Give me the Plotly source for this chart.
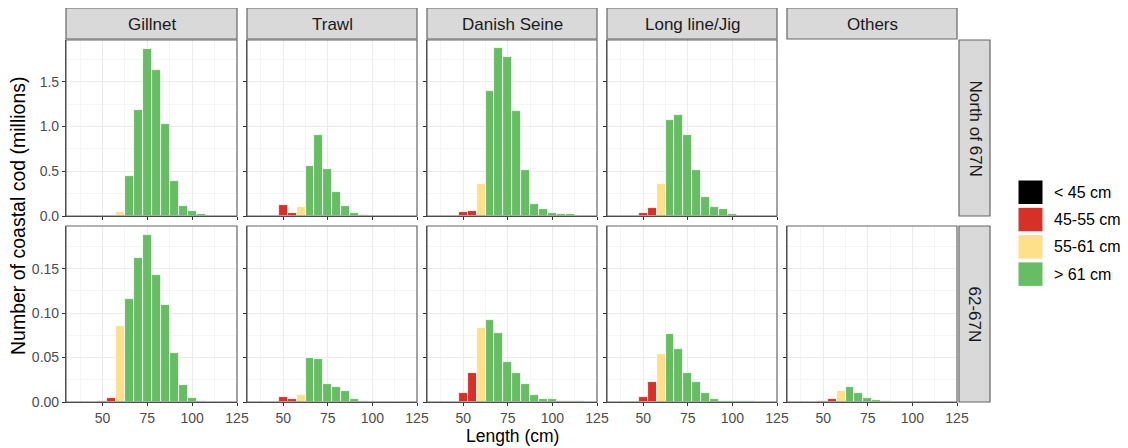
import plotly.graph_objects as go

# the page places the figure 8 px in from the top-left corner of the window
OFF = 8
W, H = 1128 - OFF, 448 - OFF

# ---- data (millions of fish), length bins in cm (bin centres) ----
bins = [50, 55, 60, 65, 70, 75, 80, 85, 90, 95, 100, 105, 110, 115]
bin_class = ["45-55 cm", "45-55 cm", "55-61 cm"] + ["> 61 cm"] * 11

gears = ["Gillnet", "Trawl", "Danish Seine", "Long line/Jig", "Others"]
regions = ["North of 67N", "62-67N"]

gillnet_north = [0, 0, 0.044, 0.45, 1.178, 1.863, 1.63, 1.026, 0.396, 0.115, 0.056, 0.022, 0, 0]
trawl_north = [0.122, 0.03, 0.104, 0.559, 0.907, 0.53, 0.263, 0.107, 0.033, 0.015, 0, 0, 0, 0]
seine_north = [0.04, 0.056, 0.356, 1.40, 1.874, 1.77, 1.167, 0.515, 0.133, 0.074, 0.037, 0.022, 0.022, 0]
longline_north = [0.03, 0.085, 0.352, 1.067, 1.133, 0.90, 0.511, 0.207, 0.096, 0.074, 0.026, 0, 0, 0]
others_north = [0] * 14

gillnet_south = [0.001, 0.005, 0.085, 0.116, 0.162, 0.188, 0.143, 0.109, 0.055, 0.019, 0.005, 0.001, 0, 0]
trawl_south = [0.0056, 0.003, 0.008, 0.050, 0.0485, 0.020, 0.017, 0.0123, 0.003, 0.001, 0, 0, 0, 0]
seine_south = [0.0097, 0.0325, 0.083, 0.0925, 0.078, 0.045, 0.0325, 0.020, 0.0078, 0.003, 0.003, 0.0015, 0.001, 0.001]
longline_south = [0.0056, 0.0224, 0.0537, 0.0765, 0.0593, 0.0325, 0.0224, 0.0097, 0.0034, 0.0015, 0.001, 0.001, 0.001, 0]
others_south = [0.001, 0.0034, 0.0123, 0.017, 0.010, 0.0045, 0.0026, 0.0015, 0, 0, 0, 0, 0, 0]

panel_data = [
    [gillnet_north, trawl_north, seine_north, longline_north, others_north],
    [gillnet_south, trawl_south, seine_south, longline_south, others_south],
]

classes = ["< 45 cm", "45-55 cm", "55-61 cm", "> 61 cm"]
class_colors = ["#000000", "#D73027", "#FEE08B", "#66BD63"]

x_ticks = [50, 75, 100, 125]
y_ticks_top = [0.0, 0.5, 1.0, 1.5]
y_ticks_bottom = [0.00, 0.05, 0.10, 0.15]

# ---- layout geometry (window pixels) ----
col_x = [(66, 237), (247, 417), (427, 597), (607, 777), (787, 957)]
row_y = [(40, 216), (226, 402)]
strip_top = (8, 39)
strip_right = (959, 990)

def px_x(p):
    return (p - OFF) / W

def px_y(p):
    return 1 - (p - OFF) / H

FONT = "Liberation Sans, Arial, sans-serif"
TICK_FONT = dict(family=FONT, size=14, color="#4D4D4D")
fig = go.Figure()

layout_axes = {}
shapes = []
annotations = []

for r in range(2):
    for c in range(5):
        n = r * 5 + c + 1
        xa = "x" if n == 1 else f"x{n}"
        ya = "y" if n == 1 else f"y{n}"
        vals = panel_data[r][c]
        for cls, col in zip(classes, class_colors):
            xs = [b for b, k, v in zip(bins, bin_class, vals) if k == cls and v > 0]
            ys = [v for b, k, v in zip(bins, bin_class, vals) if k == cls and v > 0]
            if not xs:
                continue
            fig.add_trace(go.Bar(
                x=xs, y=ys, width=5, xaxis=xa, yaxis=ya,
                marker=dict(color=col, line=dict(color="white", width=0.8)),
                showlegend=False, name=cls,
            ))
        x0, x1 = col_x[c]
        y0, y1 = row_y[r]
        layout_axes[f"xaxis{n if n > 1 else ''}"] = dict(
            domain=[px_x(x0), px_x(x1)], anchor=ya, range=[29.7, 125],
            tickmode="array", tickvals=x_ticks, showticklabels=(r == 1),
            ticks="outside", ticklen=3, tickcolor="#333333", tickwidth=1,
            tickfont=TICK_FONT, automargin=False,
            showgrid=True, gridcolor="#EBEBEB", gridwidth=1,
            minor=dict(showgrid=True, gridcolor="#F5F5F5", gridwidth=1, tick0=37.5, dtick=25),
            showline=True, linecolor="#333333", linewidth=1.2,
            zeroline=False, fixedrange=True,
        )
        if r == 0:
            yr, yt, yf, md = [0, 1.965], y_ticks_top, ".1f", 0.25
        else:
            yr, yt, yf, md = [0, 0.198], y_ticks_bottom, ".2f", 0.025
        layout_axes[f"yaxis{n if n > 1 else ''}"] = dict(
            domain=[px_y(y1), px_y(y0)], anchor=xa, range=yr,
            tickmode="array", tickvals=yt, tickformat=yf, showticklabels=(c == 0),
            ticks="outside", ticklen=3, tickcolor="#333333", tickwidth=1,
            tickfont=TICK_FONT, automargin=False,
            showgrid=True, gridcolor="#EBEBEB", gridwidth=1,
            minor=dict(showgrid=True, gridcolor="#F5F5F5", gridwidth=1, tick0=md, dtick=2 * md),
            showline=True, linecolor="#333333", linewidth=1.2,
            zeroline=False, fixedrange=True,
        )
        # panel border
        shapes.append(dict(type="rect", xref=f"{xa} domain", yref=f"{ya} domain",
                           x0=0, x1=1, y0=0, y1=1, line=dict(color="#666666", width=1.2),
                           fillcolor="rgba(0,0,0,0)", layer="above"))

# top strips
for c, g in enumerate(gears):
    x0, x1 = col_x[c]
    shapes.append(dict(type="rect", xref="paper", yref="paper",
                       x0=px_x(x0), x1=px_x(x1), y0=px_y(strip_top[1]), y1=px_y(strip_top[0]),
                       fillcolor="#D9D9D9", line=dict(color="#666666", width=1.2)))
    annotations.append(dict(xref="paper", yref="paper", x=px_x((x0 + x1) / 2),
                            y=px_y((strip_top[0] + strip_top[1]) / 2 + 0.5), text=g, showarrow=False,
                            font=dict(family=FONT, size=17, color="#1A1A1A"),
                            xanchor="center", yanchor="middle"))

# right strips
for r, reg in enumerate(regions):
    y0, y1 = row_y[r]
    shapes.append(dict(type="rect", xref="paper", yref="paper",
                       x0=px_x(strip_right[0]), x1=px_x(strip_right[1]), y0=px_y(y1), y1=px_y(y0),
                       fillcolor="#D9D9D9", line=dict(color="#666666", width=1.2)))
    annotations.append(dict(xref="paper", yref="paper", x=px_x(sum(strip_right) / 2),
                            y=px_y((y0 + y1) / 2), text=reg, showarrow=False, textangle=90,
                            font=dict(family=FONT, size=17, color="#1A1A1A"),
                            xanchor="center", yanchor="middle"))

# axis titles
annotations.append(dict(xref="paper", yref="paper", x=px_x(512), y=px_y(436), text="Length (cm)",
                        showarrow=False, font=dict(family=FONT, size=17.5, color="#000000"),
                        xanchor="center", yanchor="middle"))
annotations.append(dict(xref="paper", yref="paper", x=px_x(18), y=px_y(216),
                        text="Number of coastal cod (millions)", showarrow=False, textangle=-90,
                        font=dict(family=FONT, size=19.5, color="#000000"),
                        xanchor="center", yanchor="middle"))

# legend
for i, (cls, col) in enumerate(zip(classes, class_colors)):
    top = 180 + i * 27.3
    shapes.append(dict(type="rect", xref="paper", yref="paper",
                       x0=px_x(1018), x1=px_x(1043), y0=px_y(top + 24.5), y1=px_y(top),
                       fillcolor=col, line=dict(color="white", width=1)))
    annotations.append(dict(xref="paper", yref="paper", x=px_x(1052), y=px_y(top + 12.3),
                            text=cls, showarrow=False,
                            font=dict(family=FONT, size=16, color="#000000"),
                            xanchor="left", yanchor="middle"))

fig.update_layout(
    width=W, height=H, margin=dict(l=0, r=0, t=0, b=0, autoexpand=False),
    paper_bgcolor="white", plot_bgcolor="white",
    barmode="overlay", bargap=0, showlegend=False,
    shapes=shapes, annotations=annotations,
    font=dict(family=FONT),
    **layout_axes,
)

fig.write_html("out.html")
